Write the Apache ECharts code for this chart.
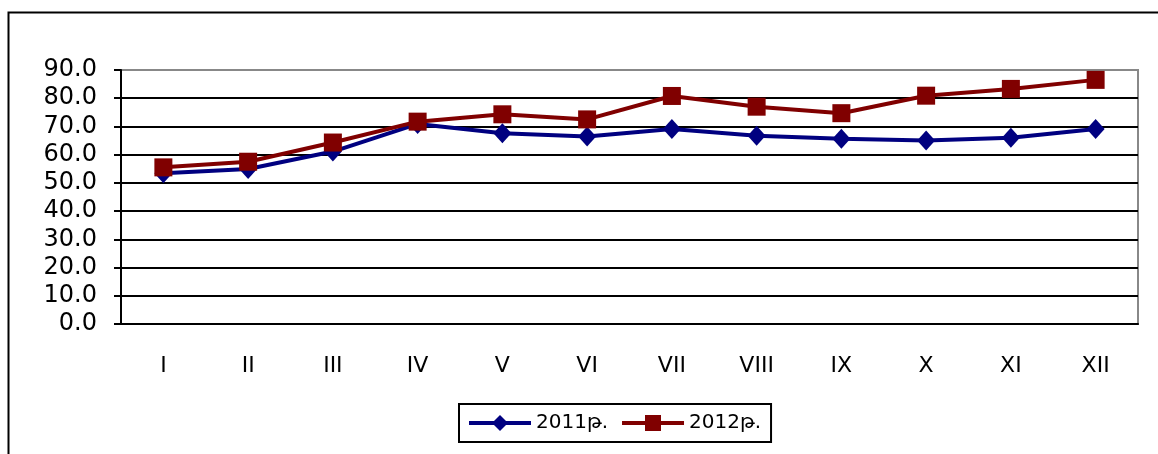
<!DOCTYPE html>
<html>
<head>
<meta charset="utf-8">
<script src="https://cdn.jsdelivr.net/npm/echarts@6/dist/echarts.min.js"></script>
<style>
  html, body { margin: 0; padding: 0; background: #fff; }
  #chart { width: 1158px; height: 454px; }
</style>
</head>
<body>
<div id="chart"></div>
<script>
// months as roman numerals
var months = ["I", "II", "III", "IV", "V", "VI", "VII", "VIII", "IX", "X", "XI", "XII"];
var values2011 = [53.4, 54.9, 61.1, 70.9, 67.6, 66.4, 69.1, 66.7, 65.6, 65.0, 66.0, 69.1];
var values2012 = [55.5, 57.5, 64.3, 71.7, 74.3, 72.5, 80.8, 77.0, 74.7, 80.9, 83.3, 86.5];
var seriesNames = ["2011թ.", "2012թ."];

var font = "DejaVu Sans";
var chart = echarts.init(document.getElementById("chart"), null, { renderer: "canvas" });

// top grid line is grey, the rest black
var gridColors = [];
for (var i = 0; i < 10; i++) gridColors.push(i === 9 ? "#888888" : "#000000");

var option = {
  backgroundColor: "#fff",
  animation: false,
  textStyle: { fontFamily: font },
  graphic: [{
    type: "rect",
    left: 6, top: 10,
    shape: { width: 1300, height: 600 },
    style: { fill: null, stroke: "#000", lineWidth: 2 },
    z: -1
  }],
  grid: {
    left: 121, right: 20, top: 70, bottom: 130,
    show: true, borderColor: "#888", borderWidth: 2
  },
  legend: {
    top: 404,
    left: 459,
    itemWidth: 62,
    itemHeight: 20,
    itemGap: 12,
    padding: [9, 10, 9, 8],
    borderColor: "#000",
    borderWidth: 2,
    lineStyle: { width: 4 },
    textStyle: { fontSize: 20, color: "#000", fontFamily: font },
    data: seriesNames
  },
  xAxis: {
    type: "category",
    data: months,
    boundaryGap: true,
    axisLine: { lineStyle: { color: "#000", width: 2 } },
    axisTick: { length: 8, lineStyle: { color: "#000", width: 2 } },
    axisLabel: { color: "#000", fontSize: 22, margin: 31, fontFamily: font },
    splitLine: { show: false }
  },
  yAxis: {
    type: "value",
    min: 0, max: 90, interval: 10,
    axisLine: { show: true, lineStyle: { color: "#000", width: 2 } },
    axisTick: { show: true, length: 7, lineStyle: { color: "#000", width: 2 } },
    axisLabel: {
      color: "#000", fontSize: 24, margin: 24, fontFamily: font,
      formatter: function (v) { return v.toFixed(1); }
    },
    splitLine: { show: true, lineStyle: { color: gridColors, width: 2 } }
  },
  series: [
    {
      name: seriesNames[0],
      type: "line",
      data: values2011,
      symbol: "diamond",
      symbolSize: [18, 20],
      itemStyle: { color: "#000080" },
      lineStyle: { color: "#000080", width: 4 }
    },
    {
      name: seriesNames[1],
      type: "line",
      data: values2012,
      symbol: "rect",
      symbolSize: 18,
      itemStyle: { color: "#800000" },
      lineStyle: { color: "#800000", width: 4 }
    }
  ]
};

chart.setOption(option);
</script>
</body>
</html>
